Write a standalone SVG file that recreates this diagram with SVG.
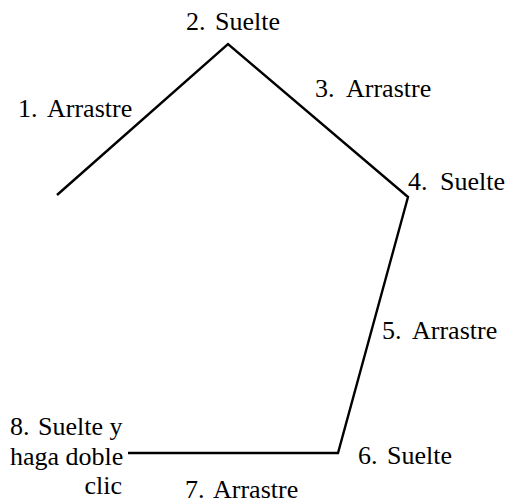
<svg xmlns="http://www.w3.org/2000/svg" width="508" height="504" viewBox="0 0 508 504">
<style>
.t{font-family:"Liberation Serif","Times New Roman",Times,serif;font-size:26px;fill:#000}
.c{fill:none;stroke:#000;stroke-width:2.4;stroke-linejoin:miter}
</style>
<rect width="508" height="504" fill="#fff"/>
<g id="connectors">
<polyline class="c" points="57,195 228,44 408,197 338,453 128,453"/>
</g>
<g id="n1"><text class="t" y="117"><tspan x="18">1.</tspan><tspan x="47">Arrastre</tspan></text></g>
<g id="n2"><text class="t" y="30"><tspan x="186">2.</tspan><tspan x="215">Suelte</tspan></text></g>
<g id="n3"><text class="t" y="97"><tspan x="315">3.</tspan><tspan x="346">Arrastre</tspan></text></g>
<g id="n4"><text class="t" y="190"><tspan x="408">4.</tspan><tspan x="440">Suelte</tspan></text></g>
<g id="n5"><text class="t" y="339"><tspan x="382">5.</tspan><tspan x="412">Arrastre</tspan></text></g>
<g id="n6"><text class="t" y="464"><tspan x="358">6.</tspan><tspan x="387">Suelte</tspan></text></g>
<g id="n7"><text class="t" y="498"><tspan x="185">7.</tspan><tspan x="213">Arrastre</tspan></text></g>
<g id="n8">
<text class="t" y="435"><tspan x="10">8.</tspan><tspan x="38">Suelte y</tspan></text>
<text class="t" x="10" y="465">haga doble</text>
<text class="t" x="122" y="494" text-anchor="end">clic</text>
</g>
</svg>
